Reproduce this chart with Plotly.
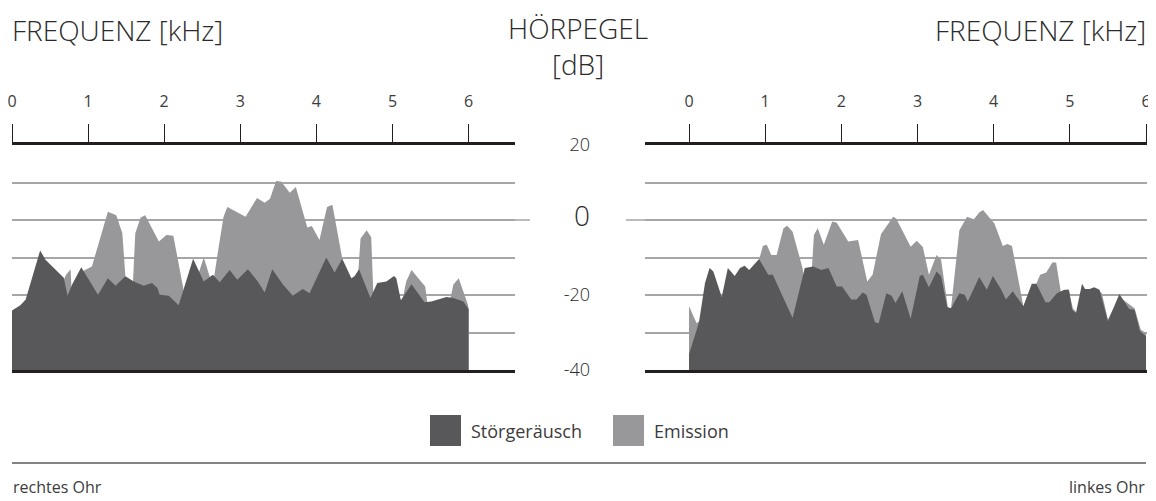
import plotly.graph_objects as go

# ── Colours ──────────────────────────────────────────────────────────────────
DARK = "#58585a"
LIGHT = "#98989b"
GRID = "#a6a6a8"
AXIS = "#231f20"
TEXT = "#2a2a2a"
SMALL = "#3c3c3c"
FONT = "Open Sans, sans-serif"

# ── Data (kHz, dB) ───────────────────────────────────────────────────────────
Y_MIN, Y_MAX = -40, 20
FREQ_TICKS = [0, 1, 2, 3, 4, 5, 6]
LEVEL_TICKS = [-40, -20, 0, 20]
LEVEL_LABELS = ["-40", "-20", '<span style="font-size:28px">0</span>', "20"]

# rechtes Ohr
right_noise_khz = [0.00, 0.11, 0.18, 0.37, 0.44, 0.52, 0.59, 0.68, 0.73, 0.79, 0.91, 1.03, 1.13,
                   1.26, 1.36, 1.49, 1.60, 1.73, 1.84, 1.91, 1.94, 2.06, 2.19, 2.38, 2.52, 2.64,
                   2.73, 2.86, 2.96, 3.10, 3.23, 3.32, 3.42, 3.56, 3.69, 3.82, 3.91, 4.13, 4.24,
                   4.34, 4.46, 4.50, 4.56, 4.71, 4.80, 4.92, 5.02, 5.05, 5.11, 5.25, 5.42, 5.51,
                   5.71, 5.80, 5.93, 6.00]
right_noise_db = [-24.1, -22.7, -21.2, -8.1, -10.6, -12.2, -13.7, -15.4, -20.2, -17.2, -12.6, -16.4,
                  -19.9, -15.5, -17.5, -15.0, -16.4, -17.5, -16.8, -18.1, -19.9, -20.2, -22.7, -10.3,
                  -16.4, -14.6, -16.6, -13.3, -15.9, -13.1, -16.4, -19.3, -13.1, -17.2, -20.2, -18.4,
                  -19.5, -10.0, -14.0, -10.3, -15.5, -15.0, -13.1, -20.8, -16.8, -16.4, -14.9, -15.5,
                  -21.4, -17.1, -21.9, -21.7, -20.5, -20.8, -21.7, -23.7]
right_emis_khz = [0.00, 0.68, 0.71, 0.77, 0.79, 0.94, 1.05, 1.26, 1.37, 1.45, 1.49, 1.52, 1.59, 1.62,
                  1.69, 1.75, 1.93, 2.03, 2.12, 2.25, 2.28, 2.47, 2.52, 2.60, 2.65, 2.71, 2.78, 2.83,
                  3.07, 3.22, 3.32, 3.39, 3.47, 3.54, 3.65, 3.73, 3.88, 3.94, 4.04, 4.14, 4.21, 4.34,
                  4.39, 4.55, 4.58, 4.66, 4.72, 4.75, 4.85, 5.13, 5.18, 5.25, 5.43, 5.46, 5.75, 5.80,
                  5.87, 5.99, 6.00]
right_emis_db = [-30.0, -16.0, -14.6, -13.1, -22.0, -13.5, -12.4, 2.2, 1.3, -3.5, -15.0, -25.0, -16.5,
                 -3.5, 0.7, 1.3, -5.7, -4.0, -4.2, -18.1, -25.0, -13.5, -10.0, -15.2, -16.0, -8.0,
                 0.9, 3.5, 0.9, 5.9, 4.6, 5.7, 10.4, 10.2, 7.3, 8.8, -2.0, -1.6, -5.3, 3.5, 4.1,
                 -10.3, -20.0, -14.0, -4.9, -2.7, -4.6, -20.5, -25.0, -21.4, -16.4, -13.3, -17.7,
                 -22.5, -22.0, -17.2, -15.5, -22.5, -23.7]

# linkes Ohr
left_noise_khz = [0.00, 0.13, 0.21, 0.27, 0.32, 0.43, 0.51, 0.60, 0.67, 0.73, 0.79, 0.92, 1.04, 1.10,
                  1.36, 1.52, 1.63, 1.74, 1.83, 1.94, 2.01, 2.13, 2.20, 2.28, 2.33, 2.44, 2.49, 2.59,
                  2.66, 2.71, 2.80, 2.91, 3.03, 3.07, 3.15, 3.25, 3.31, 3.39, 3.44, 3.55, 3.62, 3.66,
                  3.81, 3.91, 3.99, 4.10, 4.16, 4.25, 4.39, 4.50, 4.56, 4.68, 4.73, 4.83, 4.93, 4.99,
                  5.03, 5.08, 5.16, 5.20, 5.26, 5.32, 5.39, 5.50, 5.65, 5.78, 5.85, 5.92, 6.00]
left_noise_db = [-35.8, -27.4, -16.8, -12.8, -13.7, -20.5, -12.8, -14.9, -12.8, -12.2, -13.3, -10.4,
                 -14.6, -14.6, -26.1, -12.8, -12.4, -13.3, -12.8, -17.7, -17.7, -21.2, -21.2, -19.3,
                 -19.9, -27.2, -27.6, -19.5, -20.2, -22.1, -19.0, -26.3, -14.9, -14.6, -17.9, -13.7,
                 -15.0, -23.2, -23.5, -19.5, -19.9, -21.7, -15.2, -18.6, -14.9, -18.6, -21.2, -19.0,
                 -23.0, -17.0, -17.0, -21.9, -21.9, -19.5, -18.6, -18.7, -23.9, -24.8, -17.0, -18.4,
                 -18.4, -17.9, -18.6, -27.0, -19.7, -23.7, -23.9, -29.6, -31.0]
left_emis_khz = [0.00, 0.10, 0.80, 0.92, 0.97, 1.02, 1.08, 1.15, 1.24, 1.29, 1.36, 1.49, 1.53, 1.61,
                 1.64, 1.69, 1.77, 1.88, 1.94, 2.09, 2.22, 2.34, 2.41, 2.52, 2.68, 2.72, 2.91, 2.99,
                 3.07, 3.15, 3.25, 3.31, 3.40, 3.44, 3.55, 3.65, 3.74, 3.81, 3.86, 4.01, 4.12, 4.18,
                 4.24, 4.39, 4.50, 4.56, 4.61, 4.69, 4.77, 4.82, 4.88, 4.98, 5.04, 5.10, 5.39, 5.42,
                 5.50, 5.65, 5.85, 5.93, 6.00]
left_emis_db = [-23.0, -27.5, -16.0, -10.6, -6.9, -6.6, -9.3, -9.3, -2.2, -1.5, -3.1, -12.8, -18.0,
                -14.0, -4.0, -2.2, -6.6, -0.4, -0.7, -5.7, -5.3, -16.4, -14.6, -3.8, 0.9, 0.4, -7.1,
                -5.5, -7.2, -14.6, -9.3, -10.6, -23.5, -23.5, -2.7, 0.9, 0.2, 2.0, 2.7, -0.9, -6.9,
                -6.4, -6.9, -23.0, -17.5, -17.0, -14.6, -14.0, -11.3, -11.3, -19.0, -18.4, -23.5,
                -25.0, -19.0, -19.5, -26.5, -20.5, -23.5, -29.2, -30.2]

# the page body keeps its default 8px margin, so the figure starts 8px in from the window corner
OFF = 8
W, H = 1156 - OFF, 501 - OFF


def px(v):
    return (v - OFF) / W


def py(v):
    return 1 - (v - OFF) / H


fig = go.Figure()


def add_area(x, y, color, xa, ya):
    # invisible floor line, then the area filled down to it
    fig.add_trace(go.Scatter(x=[x[0], x[-1]], y=[Y_MIN, Y_MIN], mode="lines", line=dict(width=0),
                             hoverinfo="skip", showlegend=False, xaxis=xa, yaxis=ya))
    fig.add_trace(go.Scatter(x=x, y=y, mode="lines", line=dict(width=0, color=color), fill="tonexty",
                             fillcolor=color, showlegend=False, xaxis=xa, yaxis=ya))


add_area(right_emis_khz, right_emis_db, LIGHT, "x", "y")
add_area(right_noise_khz, right_noise_db, DARK, "x", "y")
add_area(left_emis_khz, left_emis_db, LIGHT, "x2", "y2")
add_area(left_noise_khz, left_noise_db, DARK, "x2", "y2")

xcommon = dict(side="top", tickvals=FREQ_TICKS, ticks="outside", ticklen=18, tickwidth=1.3, tickcolor=AXIS,
               showline=True, mirror=True, linecolor=AXIS, linewidth=2.5, showgrid=False, zeroline=False,
               tickfont=dict(size=16, color=SMALL), ticklabelstandoff=11, ticklabeloverflow="allow",
               automargin=False, fixedrange=True)
ycommon = dict(range=[Y_MIN, Y_MAX], domain=[py(370), py(145)], tickvals=LEVEL_TICKS, ticks="",
               showgrid=True, gridcolor=GRID, gridwidth=1.5, zeroline=False, showline=False,
               minor=dict(dtick=10, showgrid=True, gridcolor=GRID, gridwidth=1.5), automargin=False,
               fixedrange=True)

fig.update_layout(
    width=W, height=H, margin=dict(l=0, r=0, t=0, b=0, pad=0, autoexpand=False),
    paper_bgcolor="white", plot_bgcolor="white", font=dict(family=FONT, color=TEXT),
    showlegend=False,
    xaxis=dict(domain=[px(12), px(515)], range=[0, 503 / 76.1], anchor="y", **xcommon),
    xaxis2=dict(domain=[px(645), px(1147)], range=[-44 / 76.17, 458 / 76.17], anchor="y2", **xcommon),
    yaxis=dict(anchor="x", showticklabels=False, **ycommon),
    yaxis2=dict(anchor="x2", side="left", showticklabels=True, ticktext=LEVEL_LABELS,
                tickfont=dict(size=18, color=TEXT, weight=300), ticklabelstandoff=54, **ycommon),
)

# zero line reaches towards the centre labels
fig.add_shape(type="line", xref="paper", yref="y", x0=px(12), x1=px(530), y0=0, y1=0,
              line=dict(color=GRID, width=1.5), layer="below")
fig.add_shape(type="line", xref="paper", yref="y2", x0=px(626), x1=px(1146), y0=0, y1=0,
              line=dict(color=GRID, width=1.5), layer="below")
# separator line
fig.add_shape(type="line", xref="paper", yref="paper", x0=px(12), x1=px(1146), y0=py(463), y1=py(463),
              line=dict(color="#5a5a5a", width=1.5))

# legend, drawn by hand for the large swatches
fig.add_shape(type="rect", xref="paper", yref="paper", x0=px(430), x1=px(461), y0=py(446), y1=py(415),
              fillcolor=DARK, line=dict(width=0))
fig.add_shape(type="rect", xref="paper", yref="paper", x0=px(613), x1=px(644), y0=py(446), y1=py(415),
              fillcolor=LIGHT, line=dict(width=0))

ann = [
    dict(text="FREQUENZ [kHz]", x=px(10), y=py(30), xanchor="left", size=28, weight=300, color=TEXT),
    dict(text="FREQUENZ [kHz]", x=px(1148), y=py(30), xanchor="right", size=28, weight=300, color=TEXT),
    dict(text="HÖRPEGEL<br>[dB]", x=px(578), y=py(46), xanchor="center", size=28, weight=300, color=TEXT),
    dict(text="Störgeräusch", x=px(469), y=py(431), xanchor="left", size=18, weight=400, color=SMALL),
    dict(text="Emission", x=px(652), y=py(431), xanchor="left", size=18, weight=400, color=SMALL),
    dict(text="rechtes Ohr", x=px(11), y=py(487), xanchor="left", size=16, weight=400, color=SMALL),
    dict(text="linkes Ohr", x=px(1147), y=py(487), xanchor="right", size=16, weight=400, color=SMALL),
]
for a in ann:
    fig.add_annotation(text=a["text"], x=a["x"], y=a["y"], xref="paper", yref="paper",
                       xanchor=a["xanchor"], yanchor="middle", showarrow=False,
                       font=dict(size=a["size"], color=a["color"], family=FONT, weight=a["weight"]))

fig.write_html("out.html")
